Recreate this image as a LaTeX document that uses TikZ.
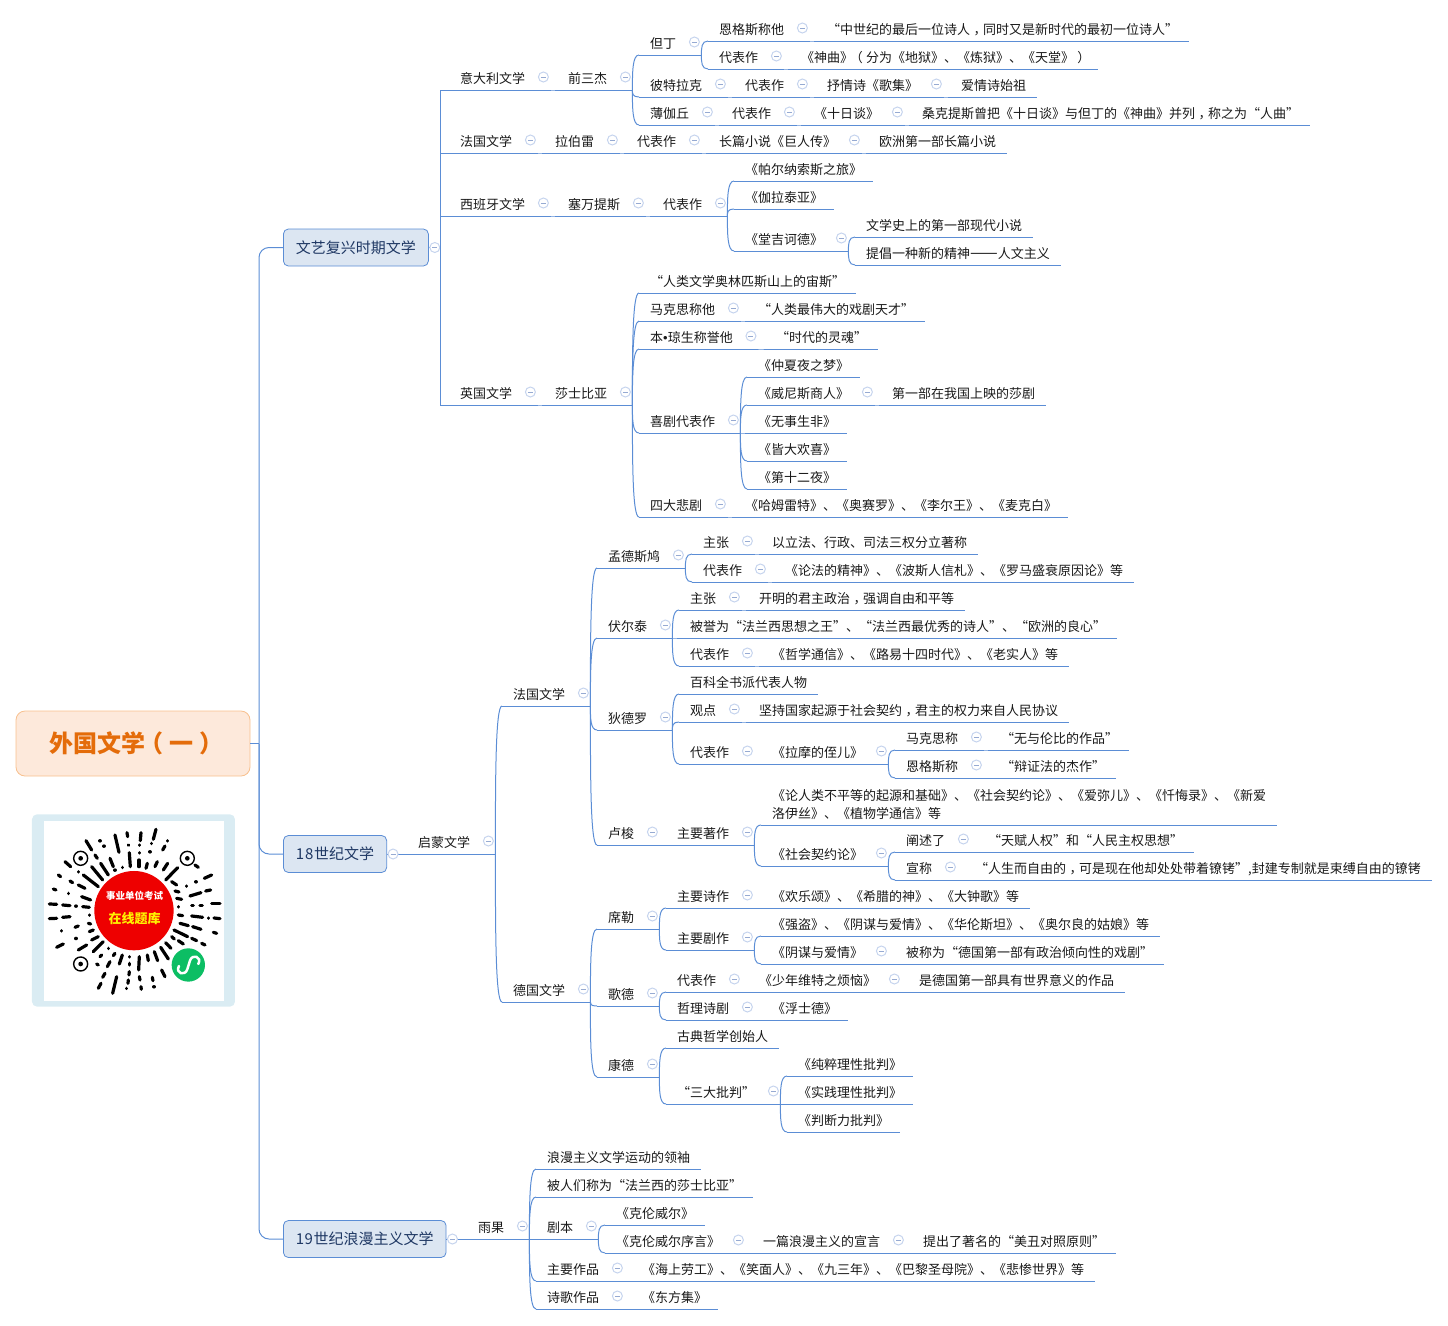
\documentclass[tikz,border=0pt]{standalone}
\usepackage{fontspec}
\setmainfont{Noto Sans CJK SC}
\newfontfamily\bulletfont{Liberation Sans}
\usepackage{xcolor}
\usepackage{tikz}
\usetikzlibrary{calc}
\definecolor{LinkBlue}{RGB}{91, 141, 213}
\definecolor{StageFill}{RGB}{220, 230, 242}
\definecolor{StageText}{RGB}{31, 56, 100}
\definecolor{RootFill}{RGB}{253, 233, 219}
\definecolor{RootLine}{RGB}{248, 192, 142}
\definecolor{RootText}{RGB}{228, 108, 10}
\definecolor{FoldLine}{RGB}{198, 212, 238}
\definecolor{FoldBar}{RGB}{150, 170, 210}
\definecolor{QrFrame}{RGB}{218, 236, 243}
\definecolor{QrRed}{RGB}{238, 0, 0}
\definecolor{QrGreen}{RGB}{12, 190, 100}
\tikzset{
    link/.style={draw=LinkBlue, line width=1pt},
    topic/.style={anchor=south west, inner xsep=11pt, inner ysep=5pt, text height=11pt, text depth=1pt,
        align=left, text=black!90, font=\fontsize{13}{18}\selectfont},
    fold/.style={circle, draw=FoldLine, fill=white, line width=1pt, minimum size=10pt, inner sep=0pt,
        path picture={\draw[FoldBar, line width=0.9pt] ([xshift=2.5pt]path picture bounding box.west) -- ([xshift=-2.5pt]path picture bounding box.east);}},
    stage/.style={anchor=west, draw=LinkBlue, fill=StageFill, rounded corners=5pt, line width=0.8pt,
        inner xsep=12.5pt, minimum height=37pt, text=StageText, font=\fontsize{15}{18}\selectfont},
    root/.style={draw=RootLine, fill=RootFill, rounded corners=9pt, line width=0.8pt, minimum width=234pt,
        minimum height=65pt, text=RootText, font=\fontsize{24}{28}\selectfont\bfseries},
    qrdash/.style={line width=3.2pt, line cap=round, black}
}
\newcommand{\cma}{\kern.27em ，\kern-.27em}
\newcommand{\openp}{\kern-.25em （\kern.25em}
\newcommand{\closep}{\kern.25em ）\kern-.25em}
\newcommand{\topic}[4]{
    \node[topic] (#1) at (#2-11,-#3) {#4};
    \draw[link] (#1.south west) -- (#1.south east);
}
\newcommand{\ftopic}[4]{
    \node[topic] (#1) at (#2-11,-#3) {#4};
    \coordinate (#1-b) at ([xshift=14pt]#1.south east);
    \draw[link] (#1.south west) -- (#1-b);
    \node[fold] (#1-f) at ([shift={(7,13)}]#1.south east) {};
}
\newcommand{\stagebox}[4]{
    \node[stage] (#1) at (#2,-#3) {#4};
    \coordinate (#1-b) at ([xshift=12pt]#1.east);
    \draw[link] (#1.east) -- (#1-b);
    \node[fold] (#1-f) at ([xshift=6pt]#1.east) {};
}
\begin{document}
\begin{tikzpicture}[x=1pt, y=1pt]
    \useasboundingbox (0,0) rectangle (1448,-1325);

    \node[root] (root) at (133,-743.5) {外国文学\openp 一\closep};
    \coordinate (trunk) at (259,-743.5);
    \stagebox{renbox}{283}{247.5}{文艺复兴时期文学}
    \stagebox{enbox}{283}{854}{1\kern.8pt 8\kern.8pt 世纪文学}
    \stagebox{robox}{283}{1239}{1\kern.5pt 9\kern.5pt 世纪浪漫主义文学}
    \draw[link] (root.east) -- (trunk);
    \draw[link, rounded corners=10pt] (trunk) |- (renbox.west);
    \draw[link, rounded corners=10pt] (trunk) |- (enbox.west);
    \draw[link, rounded corners=10pt] (trunk) |- (robox.west);

    % renaissance
    \ftopic{it}{460}{90}{意大利文学}
    \ftopic{itt}{568}{90}{前三杰}
    \ftopic{dante}{650}{55}{但丁}
    \ftopic{dantee}{719}{41}{恩格斯称他}
    \topic{danteeq}{827}{41}{“中世纪的最后一位诗人\cma 同时又是新时代的最初一位诗人”}
    \ftopic{dantew}{719}{69}{代表作}
    \topic{dantewq}{801}{69}{《神曲》\openp 分为《地狱》、《炼狱》、《天堂》\closep}
    \ftopic{petr}{650}{97}{彼特拉克}
    \ftopic{petrw}{745}{97}{代表作}
    \ftopic{petrp}{827}{97}{抒情诗《歌集》}
    \topic{petrt}{961}{97}{爱情诗始祖}
    \ftopic{bocc}{650}{125}{薄伽丘}
    \ftopic{boccw}{732}{125}{代表作}
    \ftopic{boccd}{814}{125}{《十日谈》}
    \topic{bocct}{922}{125}{桑克提斯曾把《十日谈》与但丁的《神曲》并列\cma 称之为“人曲”}
    \ftopic{fr}{460}{153}{法国文学}
    \ftopic{rab}{555}{153}{拉伯雷}
    \ftopic{rabw}{637}{153}{代表作}
    \ftopic{rabn}{719}{153}{长篇小说《巨人传》}
    \topic{rabt}{879}{153}{欧洲第一部长篇小说}
    \ftopic{sp}{460}{216}{西班牙文学}
    \ftopic{cerv}{568}{216}{塞万提斯}
    \ftopic{cervw}{663}{216}{代表作}
    \topic{parn}{745}{181}{《帕尔纳索斯之旅》}
    \topic{gala}{745}{209}{《伽拉泰亚》}
    \ftopic{quix}{745}{251}{《堂吉诃德》}
    \topic{quixa}{866}{237}{文学史上的第一部现代小说}
    \topic{quixb}{866}{265}{提倡一种新的精神{\fontsize{16.5}{18}\selectfont ——}人文主义}
    \ftopic{en}{460}{405}{英国文学}
    \ftopic{shak}{555}{405}{莎士比亚}
    \topic{shq}{650}{293}{“人类文学奥林匹斯山上的宙斯”}
    \ftopic{marx}{650}{321}{马克思称他}
    \topic{marxq}{758}{321}{“人类最伟大的戏剧天才”}
    \ftopic{jons}{650}{349}{本{\bulletfont •}琼生称誉他}
    \topic{jonsq}{776}{349}{“时代的灵魂”}
    \ftopic{com}{650}{433}{喜剧代表作}
    \topic{dream}{758}{377}{《仲夏夜之梦》}
    \ftopic{merch}{758}{405}{《威尼斯商人》}
    \topic{mercht}{892}{405}{第一部在我国上映的莎剧}
    \topic{ado}{758}{433}{《无事生非》}
    \topic{asyou}{758}{461}{《皆大欢喜》}
    \topic{twelfth}{758}{489}{《第十二夜》}
    \ftopic{trag}{650}{517}{四大悲剧}
    \topic{tragw}{745}{517}{《哈姆雷特》、《奥赛罗》、《李尔王》、《麦克白》}

    % 18th century
    \ftopic{enl}{418}{854}{启蒙文学}
    \ftopic{enlfr}{513}{706}{法国文学}
    \ftopic{enlde}{513}{1002}{德国文学}
    \ftopic{mont}{608}{568}{孟德斯鸠}
    \ftopic{monta}{703}{554}{主张}
    \topic{montat}{772}{554}{以立法、行政、司法三权分立著称}
    \ftopic{montw}{703}{582}{代表作}
    \topic{montwt}{785}{582}{《论法的精神》、《波斯人信札》、《罗马盛衰原因论》等}
    \ftopic{volt}{608}{638}{伏尔泰}
    \ftopic{volta}{690}{610}{主张}
    \topic{voltat}{759}{610}{开明的君主政治\cma 强调自由和平等}
    \topic{voltb}{690}{638}{被誉为“法兰西思想之王”、“法兰西最优秀的诗人”、“欧洲的良心”}
    \ftopic{voltw}{690}{666}{代表作}
    \topic{voltwt}{772}{666}{《哲学通信》、《路易十四时代》、《老实人》等}
    \ftopic{dide}{608}{730}{狄德罗}
    \topic{didea}{690}{694}{百科全书派代表人物}
    \ftopic{dideb}{690}{722}{观点}
    \topic{didebt}{759}{722}{坚持国家起源于社会契约\cma 君主的权力来自人民协议}
    \ftopic{didew}{690}{764}{代表作}
    \ftopic{didewt}{772}{764}{《拉摩的侄儿》}
    \ftopic{didem}{906}{750}{马克思称}
    \topic{didemq}{1001}{750}{“无与伦比的作品”}
    \ftopic{didee}{906}{778}{恩格斯称}
    \topic{dideeq}{1001}{778}{“辩证法的杰作”}
    \ftopic{rous}{608}{845}{卢梭}
    \ftopic{rousm}{677}{845}{主要著作}
    \topic{rousl}{772}{825}{《论人类不平等的起源和基础》、《社会契约论》、《爱弥儿》、《忏悔录》、《新爱\\洛伊丝》、《植物学通信》等}
    \ftopic{rousc}{772}{866}{《社会契约论》}
    \ftopic{rousca}{906}{852}{阐述了}
    \topic{rouscaq}{988}{852}{“天赋人权”和“人民主权思想”}
    \ftopic{rouscb}{906}{880}{宣称}
    \topic{rouscbq}{975}{880}{“人生而自由的\cma 可是现在他却处处带着镣铐”,封建专制就是束缚自由的镣铐}
    \ftopic{schi}{608}{929}{席勒}
    \ftopic{schip}{677}{908}{主要诗作}
    \topic{schipt}{772}{908}{《欢乐颂》、《希腊的神》、《大钟歌》等}
    \ftopic{schid}{677}{950}{主要剧作}
    \topic{schida}{772}{936}{《强盗》、《阴谋与爱情》、《华伦斯坦》、《奥尔良的姑娘》等}
    \ftopic{schidb}{772}{964}{《阴谋与爱情》}
    \topic{schidbq}{906}{964}{被称为“德国第一部有政治倾向性的戏剧”}
    \ftopic{goet}{608}{1006}{歌德}
    \ftopic{goetw}{677}{992}{代表作}
    \ftopic{goetwt}{759}{992}{《少年维特之烦恼》}
    \topic{goetwq}{919}{992}{是德国第一部具有世界意义的作品}
    \ftopic{goetp}{677}{1020}{哲理诗剧}
    \topic{goetpt}{772}{1020}{《浮士德》}
    \ftopic{kant}{608}{1077}{康德}
    \topic{kantf}{677}{1048}{古典哲学创始人}
    \ftopic{kantc}{677}{1104}{“三大批判”}
    \topic{kanta}{798}{1076}{《纯粹理性批判》}
    \topic{kantb}{798}{1104}{《实践理性批判》}
    \topic{kantd}{798}{1132}{《判断力批判》}

    % 19th century
    \ftopic{hugo}{478}{1239}{雨果}
    \topic{hugoa}{547}{1169}{浪漫主义文学运动的领袖}
    \topic{hugob}{547}{1197}{被人们称为“法兰西的莎士比亚”}
    \ftopic{hugod}{547}{1239}{剧本}
    \topic{hugoda}{616}{1225}{《克伦威尔》}
    \ftopic{hugodb}{616}{1253}{《克伦威尔序言》}
    \ftopic{hugodbt}{763}{1253}{一篇浪漫主义的宣言}
    \topic{hugodbq}{923}{1253}{提出了著名的“美丑对照原则”}
    \ftopic{hugom}{547}{1281}{主要作品}
    \topic{hugomt}{642}{1281}{《海上劳工》、《笑面人》、《九三年》、《巴黎圣母院》、《悲惨世界》等}
    \ftopic{hugop}{547}{1309}{诗歌作品}
    \topic{hugopt}{642}{1309}{《东方集》}

    \foreach \c in {it,fr,sp,en}
        \draw[link] (renbox-b) |- (\c.south west);
    \draw[link] (enbox-b) -- (enl.south west);
    \draw[link] (robox-b) -- (hugo.south west);

    \foreach \p/\c in {it/itt, itt/dante, itt/petr, itt/bocc, dante/dantee, dante/dantew, dantee/danteeq,
        dantew/dantewq, petr/petrw, petrw/petrp, petrp/petrt, bocc/boccw, boccw/boccd, boccd/bocct,
        fr/rab, rab/rabw, rabw/rabn, rabn/rabt, sp/cerv, cerv/cervw, cervw/parn, cervw/gala, cervw/quix,
        quix/quixa, quix/quixb, en/shak, shak/shq, shak/marx, shak/jons, shak/com, shak/trag,
        marx/marxq, jons/jonsq, com/dream, com/merch, com/ado, com/asyou, com/twelfth, merch/mercht, trag/tragw,
        enl/enlfr, enl/enlde, enlfr/mont, enlfr/volt, enlfr/dide, enlfr/rous, mont/monta, mont/montw,
        monta/montat, montw/montwt, volt/volta, volt/voltb, volt/voltw, volta/voltat, voltw/voltwt,
        dide/didea, dide/dideb, dide/didew, dideb/didebt, didew/didewt, didewt/didem, didewt/didee,
        didem/didemq, didee/dideeq, rous/rousm, rousm/rousl, rousm/rousc, rousc/rousca, rousc/rouscb,
        rousca/rouscaq, rouscb/rouscbq, enlde/schi, enlde/goet, enlde/kant, schi/schip, schi/schid,
        schip/schipt, schid/schida, schid/schidb, schidb/schidbq, goet/goetw, goet/goetp, goetw/goetwt,
        goetwt/goetwq, goetp/goetpt, kant/kantf, kant/kantc, kantc/kanta, kantc/kantb, kantc/kantd,
        hugo/hugoa, hugo/hugob, hugo/hugod, hugo/hugom, hugo/hugop, hugod/hugoda, hugod/hugodb,
        hugodb/hugodbt, hugodbt/hugodbq, hugom/hugomt, hugop/hugopt}
        \draw[link] (\p-b) .. controls ($(\p-b)!0.5!(\p-b |- \c.south west)$) and (\p-b |- \c.south west) .. (\c.south west);

    % mini program code
    \begin{scope}[shift={(0,-690)}, x=0.3333pt, y=-0.3333pt]
        \fill[QrFrame, rounded corners=5pt] (96,373) rectangle (705,950);
        \fill[white] (132,393) rectangle (672,933);
        \foreach \xa/\ya/\xb/\yb in {345/435/357/487, 381/428/383/440, 385/465/386/466, 423/428/421/452, 418/465/418/466,
            418/488/418/489, 468/418/460/448, 502/452/502/453, 495/468/488/480, 455/460/455/461, 450/485/450/486,
            388/488/391/530, 417/510/417/530, 442/520/438/535, 472/515/465/530, 503/520/490/540, 533/533/497/570,
            300/452/300/453, 312/468/312/469, 258/452/275/480, 285/495/292/505, 330/505/340/530, 302/520/325/555,
            275/530/308/570, 250/555/295/590, 367/532/367/533, 345/540/345/541, 195/515/212/530, 235/545/235/546,
            175/555/182/560, 210/573/218/578, 235/585/255/595, 160/597/168/600, 205/610/205/611, 245/620/272/630,
            148/642/170/643, 188/645/210/647, 228/648/228/649, 248/650/268/652, 148/686/170/685, 188/682/210/680,
            268/675/268/676, 265/700/272/702, 225/712/235/708, 185/722/185/723, 268/725/280/720, 228/745/228/746,
            170/772/190/762, 235/780/260/765, 275/750/295/740, 280/785/310/755, 325/775/325/776, 345/790/340/797,
            305/795/300/800, 295/825/290/822, 330/815/322/830, 367/795/358/822, 388/800/388/801, 388/820/388/825,
            388/845/387/855, 385/870/384/880, 380/895/380/896, 315/850/308/862, 303/880/295/895, 350/860/338/910,
            418/800/416/840, 418/860/420/870, 423/890/424/898, 442/795/445/812, 463/785/473/812, 482/772/505/807,
            457/862/459/872, 462/890/462/891, 485/840/495/860, 497/758/513/775, 515/740/523/747, 522/720/563/740,
            540/700/565/707, 535/752/550/762, 575/745/590/752, 605/760/615/765, 578/710/603/718, 640/727/650/730,
            575/678/608/682, 625/684/625/685, 642/684/660/686, 535/675/548/677, 535/650/535/651, 575/647/580/647,
            600/646/607/646, 635/641/660/641, 530/625/545/628, 525/603/537/606, 570/618/603/608, 617/603/632/600,
            515/575/530/585, 613/565/635/555, 560/588/560/589, 588/575/588/576, 585/525/595/532}
            \draw[qrdash] (\xa,\ya) -- (\xb,\yb);
        \foreach \xa/\ya in {242/505, 562/505, 242/822} {
            \draw[black, line width=1.4pt] (\xa,\ya) circle (21);
            \fill[black] (\xa,\ya) circle (7);
        }
        \fill[QrRed] (402,662) circle (119);
        \node[text=white, font=\fontsize{9.5}{11}\selectfont\bfseries] (qrtop) at (404,618) {事业单位考试};
        \node[text=yellow, font=\fontsize{13}{15}\selectfont\bfseries] (qrbottom) at (404,686) {在线题库};
        \fill[white] (565,825) circle (54);
        \fill[QrGreen] (565,825) circle (50);
        \draw[white, line width=2.5pt, line cap=round] (537,828) .. controls (525,850) and (555,860) .. (562,838)
            -- (570,812) .. controls (577,790) and (607,800) .. (595,822);
    \end{scope}
\end{tikzpicture}
\end{document}
